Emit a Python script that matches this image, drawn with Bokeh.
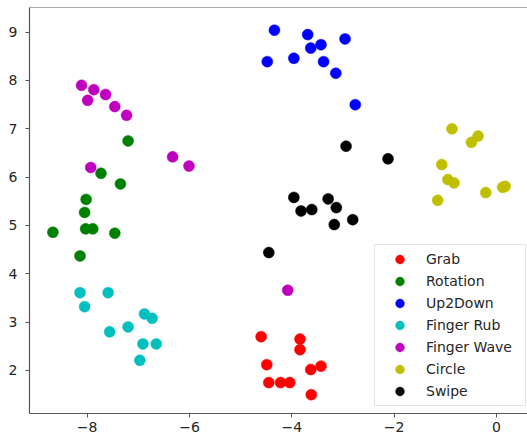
from bokeh.plotting import figure
from bokeh.models import Legend, LegendItem, FixedTicker, Range1d, Span
from bokeh.embed import file_html
from bokeh.resources import INLINE

labels = ["Grab", "Rotation", "Up2Down", "Finger Rub", "Finger Wave", "Circle", "Swipe"]
colors = ["#ff0000", "#008000", "#0000ff", "#00bfbf", "#bf00bf", "#bfbf00", "#000000"]

grab_x = [-4.60, -3.84, -3.84, -4.49, -3.63, -3.43, -4.45, -4.22, -4.04, -3.62]
grab_y = [2.70, 2.65, 2.43, 2.12, 2.02, 2.09, 1.75, 1.75, 1.75, 1.50]

rot_x = [-7.20, -7.73, -7.35, -8.02, -8.05, -8.67, -8.03, -7.89, -7.46, -8.14]
rot_y = [6.75, 6.08, 5.86, 5.54, 5.27, 4.86, 4.93, 4.93, 4.84, 4.37]

up_x = [-4.34, -3.69, -2.96, -3.43, -3.63, -4.48, -3.96, -3.38, -3.14, -2.76]
up_y = [9.04, 8.95, 8.86, 8.74, 8.67, 8.39, 8.46, 8.39, 8.15, 7.50]

rub_x = [-8.14, -7.59, -8.05, -6.88, -6.73, -7.20, -7.56, -6.91, -6.65, -6.97]
rub_y = [3.61, 3.61, 3.32, 3.17, 3.08, 2.90, 2.80, 2.55, 2.55, 2.21]

wave_x = [-8.11, -7.87, -7.64, -7.99, -7.46, -7.23, -7.93, -6.33, -6.01, -4.08]
wave_y = [7.90, 7.81, 7.71, 7.59, 7.46, 7.28, 6.20, 6.42, 6.23, 3.66]

circ_x = [-0.87, -0.36, -0.49, -1.07, -0.95, -0.83, 0.12, 0.17, -0.21, -1.15]
circ_y = [7.00, 6.85, 6.72, 6.26, 5.95, 5.88, 5.79, 5.81, 5.68, 5.52]

swipe_x = [-2.94, -2.12, -3.96, -3.29, -3.82, -3.61, -3.13, -3.17, -2.81, -4.45]
swipe_y = [6.64, 6.38, 5.58, 5.55, 5.30, 5.33, 5.37, 5.02, 5.12, 4.44]

xs = [grab_x, rot_x, up_x, rub_x, wave_x, circ_x, swipe_x]
ys = [grab_y, rot_y, up_y, rub_y, wave_y, circ_y, swipe_y]

x_ticks = [-8, -6, -4, -2, 0]
y_ticks = [2, 3, 4, 5, 6, 7, 8, 9]

y_top = 9.51
p = figure(width=527, height=444, output_backend="svg", toolbar_location=None,
           x_range=Range1d(-9.127, 0.606), y_range=Range1d(1.11, y_top),
           min_border_left=29, min_border_right=0, min_border_top=7, min_border_bottom=31)
p.xgrid.visible = False
p.ygrid.visible = False
p.outline_line_color = None

# top spine (right spine lies outside the visible area in the original)
p.add_layout(Span(location=y_top, dimension="width", line_color="#555555", line_width=1.2))

items = []
for lab, c, x, y in zip(labels, colors, xs, ys):
    r = p.scatter(x, y, size=11, fill_color=c, line_color=c, line_width=0.5)
    items.append(LegendItem(label=lab, renderers=[r]))

for ax in (p.xaxis[0], p.yaxis[0]):
    ax.axis_line_color = "#555555"
    ax.axis_line_width = 1.2
    ax.major_tick_line_color = "#555555"
    ax.major_tick_out = 4
    ax.major_tick_in = 0
    ax.minor_tick_out = 0
    ax.minor_tick_in = 0
    ax.major_label_text_font = "DejaVu Sans"
    ax.major_label_text_font_size = "14px"
    ax.major_label_text_color = "#262626"

p.xaxis[0].ticker = FixedTicker(ticks=x_ticks)
p.yaxis[0].ticker = FixedTicker(ticks=y_ticks)
p.xaxis[0].major_label_overrides = {t: (str(t).replace("-", "\u2212")) for t in x_ticks}
p.xaxis[0].major_label_standoff = 4
p.yaxis[0].major_label_standoff = 8

legend = Legend(items=items, location=(345, 7), margin=0, padding=3,
                glyph_width=43, glyph_height=22, label_height=22, spacing=0,
                label_standoff=5, label_width=96,
                label_text_font="DejaVu Sans", label_text_font_size="14px",
                label_text_color="#262626",
                border_line_color="#cccccc", border_line_width=1,
                background_fill_color="white", background_fill_alpha=0.8)
p.add_layout(legend)

open("out.html", "w").write(file_html(p, INLINE))
